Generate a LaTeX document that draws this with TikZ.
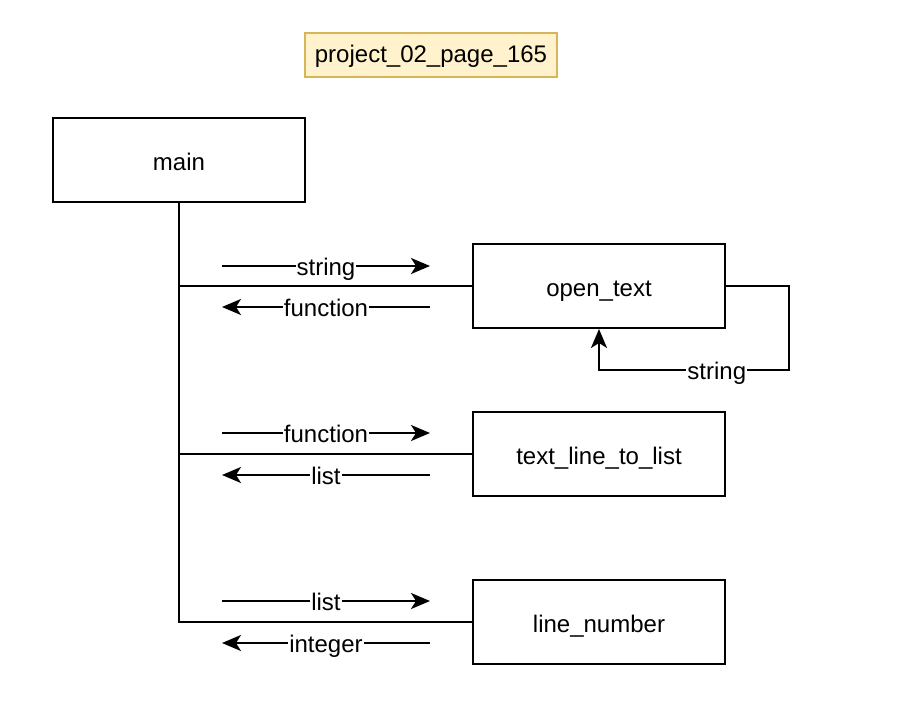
\documentclass[tikz,border=0pt]{standalone}
\usepackage{fontspec}
\setmainfont{Liberation Sans}
\usepackage{tikz}
\usetikzlibrary{arrows.meta,positioning}
\definecolor{notefill}{HTML}{FFF2CC}
\definecolor{notedraw}{HTML}{D6B656}

\begin{document}
\begin{tikzpicture}[x=1pt,y=-1pt, font=\fontsize{24}{28}\selectfont,
    func/.style={draw, line width=2pt, minimum width=252pt, minimum height=84pt, inner sep=0pt, text height=21pt, text depth=0pt},
    flow/.style={line width=2pt, -{Stealth[length=19pt,width=16pt,inset=5pt]}},
    wire/.style={line width=2pt},
    lbl/.style={fill=white, inner sep=1pt, text height=19pt, text depth=0pt}]
\useasboundingbox (0,0) rectangle (905,714);
\node[draw=notedraw, fill=notefill, line width=2pt, minimum width=252pt, minimum height=44pt, inner sep=0pt, text height=15pt, text depth=0pt] (title) at (431,55) {project\_02\_page\_165};
\node[func] (main) at (179,160) {main};
\node[func] (open) at (599,286) {open\_text};
\node[func] (tlist) at (599,454) {text\_line\_to\_list};
\node[func] (lnum) at (599,622) {line\_number};
% trunk from main to the three functions
\draw[wire] (main.south) |- (open.west);
\draw[wire] (main.south) |- (tlist.west);
\draw[wire] (main.south) |- (lnum.west);
% self call of open_text
\coordinate (loop) at (789,370);
\draw[flow] (open.east) -| (loop) -| (open.south) node[lbl, pos=0.19] {string};
% data passed along
\coordinate (a1) at (222,266); \coordinate (b1) at (430,266);
\coordinate (a2) at (222,307); \coordinate (b2) at (430,307);
\coordinate (a3) at (222,433); \coordinate (b3) at (430,433);
\coordinate (a4) at (222,475); \coordinate (b4) at (430,475);
\coordinate (a5) at (222,601); \coordinate (b5) at (430,601);
\coordinate (a6) at (222,643); \coordinate (b6) at (430,643);
\draw[flow] (a1) -- (b1) node[lbl, midway] {string};
\draw[flow] (b2) -- (a2) node[lbl, midway] {function};
\draw[flow] (a3) -- (b3) node[lbl, midway] {function};
\draw[flow] (b4) -- (a4) node[lbl, midway] {list};
\draw[flow] (a5) -- (b5) node[lbl, midway] {list};
\draw[flow] (b6) -- (a6) node[lbl, midway] {integer};
\end{tikzpicture}
\end{document}
